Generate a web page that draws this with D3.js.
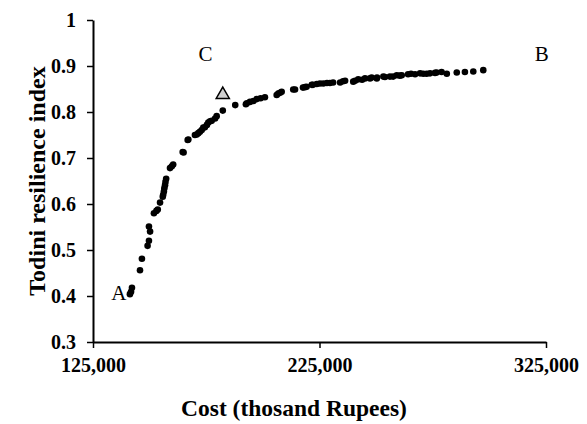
<!DOCTYPE html>
<html>
<head>
<meta charset="utf-8">
<script src="https://cdn.jsdelivr.net/npm/d3@7"></script>
<style>
  body { margin: 0; background: #fff; }
  svg text { font-family: "Liberation Serif", "Times New Roman", serif; }
  .axis text.tick-label {
    font-family: "Liberation Serif", serif !important;
    font-weight: bold !important;
    font-size: 20px !important;
    fill: #000;
  }
</style>
</head>
<body>
<div class="chart"></div>
<script>
// cost (thousand Rupees) and Todini resilience index of the solutions
var cost = [141300, 141800, 142200, 145750, 146600, 149100, 149700, 149700, 150200,
  151900, 153000, 153600, 154600, 155800, 156000, 156300, 156500, 156800, 157000, 157300,
  159000, 159800, 160400, 164600, 165000, 166800, 167100, 170000, 170800, 171500,
  172200, 173000, 173700, 174400, 175300, 175900, 176700, 177400, 178900, 179600,
  182300, 187800, 192500, 192900, 194300, 195800, 197300, 199000, 200900, 206100,
  206800, 207600, 208300, 213400, 214200, 217700, 218600, 219300, 221600, 222100,
  223800, 225200, 226700, 228300, 229600, 231000, 234100, 235400, 236300, 239900,
  240700, 242100, 243800, 245100, 247300, 248000, 250300, 250400, 253200, 253900,
  256100, 257500, 259100, 260500, 261300, 264100, 265400, 267200, 269400, 270800,
  272300, 273800, 276000, 276700, 278900, 281200, 285600, 289200, 292900, 297300];
var todini = [0.404, 0.409, 0.418, 0.456, 0.481, 0.509, 0.520, 0.551, 0.540,
  0.580, 0.585, 0.588, 0.603, 0.616, 0.620, 0.627, 0.634, 0.641, 0.648, 0.655,
  0.678, 0.682, 0.686, 0.713, 0.712, 0.739, 0.740, 0.750, 0.751, 0.754,
  0.757, 0.761, 0.766, 0.767, 0.772, 0.777, 0.780, 0.781, 0.786, 0.791,
  0.803, 0.815, 0.817, 0.819, 0.822, 0.824, 0.828, 0.830, 0.832, 0.837,
  0.840, 0.842, 0.844, 0.849, 0.849, 0.853, 0.854, 0.855, 0.859, 0.859,
  0.861, 0.862, 0.862, 0.863, 0.863, 0.864, 0.864, 0.867, 0.868, 0.866,
  0.868, 0.871, 0.870, 0.873, 0.873, 0.875, 0.873, 0.875, 0.877, 0.876,
  0.877, 0.877, 0.880, 0.879, 0.880, 0.882, 0.883, 0.882, 0.884, 0.883,
  0.883, 0.884, 0.885, 0.886, 0.887, 0.883, 0.886, 0.887, 0.888, 0.891];

// the marked solution C (triangle)
var markC = [182300, 0.840];

// point labels
var labels = [
  { text: "A", x: 139800, y: 0.4065, anchor: "end" },
  { text: "C", x: 174700, y: 0.926, anchor: "middle" },
  { text: "B", x: 323100, y: 0.926, anchor: "middle" }
];

var xTicks = [125000, 225000, 325000];
var yTicks = [0.3, 0.4, 0.5, 0.6, 0.7, 0.8, 0.9, 1];

var svgWidth = 587;
var svgHeight = 424;

var margin = { top: 20, right: 41, bottom: 82, left: 93 };
var width = svgWidth - margin.left - margin.right;
var height = svgHeight - margin.top - margin.bottom;

var svg = d3.select(".chart")
  .append("svg")
  .attr("width", svgWidth)
  .attr("height", svgHeight);

var chartGroup = svg.append("g")
  .attr("transform", `translate(${margin.left}, ${margin.top})`);

var xScale = d3.scaleLinear()
  .domain([125000, 325000])
  .range([0, width]);

var yScale = d3.scaleLinear()
  .domain([0.3, 1])
  .range([height, 0]);

var xAxis = d3.axisBottom(xScale)
  .tickValues(xTicks)
  .tickSize(6)
  .tickSizeOuter(0)
  .tickFormat(d3.format(","));

var yAxis = d3.axisLeft(yScale)
  .tickValues(yTicks)
  .tickSize(6)
  .tickSizeOuter(0)
  .tickPadding(11)
  .tickFormat(d => d === 1 ? "1" : d3.format(".1f")(d));

var gx = chartGroup.append("g")
  .attr("class", "axis")
  .attr("transform", `translate(0, ${height})`)
  .call(xAxis);

var gy = chartGroup.append("g")
  .attr("class", "axis")
  .call(yAxis);

[gx, gy].forEach(function(g) {
  g.attr("font-family", null).attr("font-size", null);
  g.select(".domain").attr("stroke", "#000").attr("stroke-width", 2);
  g.selectAll(".tick line").attr("stroke", "#000").attr("stroke-width", 1.5);
  g.selectAll(".tick text").attr("class", "tick-label");
});

gx.selectAll(".tick text").attr("y", 16);

// scatter points
var points = cost.map((c, i) => ({ cost: c, todini: todini[i] }));

chartGroup.selectAll("circle")
  .data(points)
  .enter()
  .append("circle")
  .attr("cx", d => xScale(d.cost))
  .attr("cy", d => yScale(d.todini))
  .attr("r", 3.3)
  .attr("fill", "#000");

// triangle for C
chartGroup.append("path")
  .attr("d", d3.symbol().type(d3.symbolTriangle).size(75))
  .attr("transform", `translate(${xScale(markC[0])}, ${yScale(markC[1]) + 1})`)
  .attr("fill", "#d0d0d0")
  .attr("stroke", "#000")
  .attr("stroke-width", 1.5);

chartGroup.selectAll(".pt-label")
  .data(labels)
  .enter()
  .append("text")
  .attr("class", "pt-label")
  .attr("x", d => xScale(d.x))
  .attr("y", d => yScale(d.y))
  .attr("text-anchor", d => d.anchor)
  .attr("dy", "0.35em")
  .style("font-size", "21px")
  .attr("fill", "#000")
  .text(d => d.text);

// axis titles
svg.append("text")
  .attr("text-anchor", "middle")
  .attr("x", 294)
  .attr("y", 416)
  .style("font-size", "23.5px")
  .style("font-weight", "bold")
  .attr("fill", "#000")
  .text("Cost (thosand Rupees)");

svg.append("text")
  .attr("text-anchor", "middle")
  .attr("transform", `translate(45, ${margin.top + height / 2}) rotate(-90)`)
  .style("font-size", "24px")
  .style("font-weight", "bold")
  .attr("fill", "#000")
  .text("Todini resilience index");
</script>
</body>
</html>
